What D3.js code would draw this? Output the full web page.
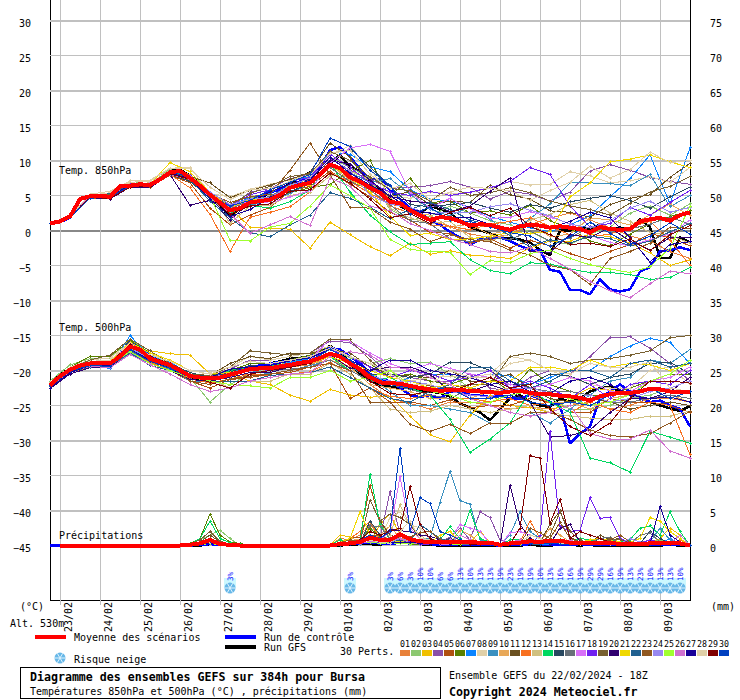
<!DOCTYPE html>
<html><head><meta charset="utf-8">
<script src="https://cdn.jsdelivr.net/npm/d3@7"></script>
<style>
html,body{margin:0;padding:0;background:#fff}
svg{display:block}
text{font-family:"DejaVu Sans Mono",monospace;font-size:10px;fill:#000}
</style></head><body>
<div id="chart"></div>
<script>
// ---------- labels
const dateLabels = ["23/02","24/02","25/02","26/02","27/02","28/02","29/02","01/03","02/03","03/03","04/03","05/03","06/03","07/03","08/03","09/03"];
const leftTicks = [30,25,20,15,10,5,0,-5,-10,-15,-20,-25,-30,-35,-40,-45];
const rightTicks = [75,70,65,60,55,50,45,40,35,30,25,20,15,10,5,0];
const memberColors = ["#e8813a","#8cc870","#f0c000","#8a50a8","#b05010","#5a8000","#0a84ff","#e0d0a8","#3a90c0","#e8a858","#6a5020","#f87020","#d0c080","#00d860","#284860","#687078","#d870f8","#7020f0","#786030","#300070","#f0d800","#206090","#905820","#9888f0","#a0ff30","#d070d0","#180098","#e0d0a8","#800000","#0040c0"];
// snow risk
const snowSteps = [18,30,34,35,36,37,38,39,40,41,42,43,44,45,46,47,48,49,50,51,52,53,54,55,56,57,58,59,60,61,62,63];
const snowPct = [3,3,3,6,3,10,10,6,6,13,10,13,13,19,23,19,19,10,13,16,16,19,29,29,16,19,13,23,10,13,13,10];

// ---------- 850 hPa, one row per perturbation, one value every 12 h
const t850 = [
[1,2,4.8,4.9,6.5,6.4,8.2,7.2,4.7,2.5,3.9,  4.6,6.2,6.5,9.8,8,5.8,3.5,2.5,.8,.5,-.5,  -1,-.6,.8,1.8,2.5,1.5,.4,-.8,-1.5,-3,-4],
[1,2.1,5.1,5,6.6,7.2,8.7,8,5.5,3.3,4.7,  4.8,6.5,7.4,10.5,9,7.5,3,1.5,2,3.5,2.5,  1.4,.8,-.2,-1.5,-2,-.5,.5,2.5,3.5,2.2,3.8],
[1,2,4.7,4.7,6.2,6.3,8.6,8,5.2,3.2,.5,  .3,.2,-2.5,1.2,-.6,-2.3,-3.6,-1.8,-3.4,-2.9,-3.5,  -3.7,-4,-2.5,-1.5,-1.5,-.5,-.9,-1.8,-3.2,-5,-4.2],
[1,2,5,5.2,6.6,6.8,8.6,7.8,5.5,3.2,5.5,  6,7.4,8,10.3,8.6,7.3,6,6.2,6.4,7,6.2,  4.5,5.6,5.2,4.2,5.5,8.5,9.4,8.6,7.6,7,6.6],
[1,1.9,4.6,4.5,6.2,6.2,7.9,6.8,3.2,.8,2.2,  3.3,5.6,6.3,8.5,6.6,4.8,2.6,1.5,-.3,-.4,-1.8,  -1.2,-2.5,-1.4,-2.2,-3.3,-4.2,-3,-2,-.5,-1,-2.2],
[1,2,4.9,5,6.5,6.6,8.2,7.2,4.6,3,4.5,  4.3,5.4,6.1,6.6,8.5,10,4.8,7.5,4,4.2,2.5,  2.8,2.2,3.6,1.4,.3,-1.5,-2.2,-.5,.9,2,2.8],
[1,2.1,5,4.7,6.4,6.6,8.4,7.7,5,3.4,4.8,  5.3,7.1,7.7,11.2,10.9,9.1,8.4,5.8,4.5,4.2,3.3,  2,1.2,.4,-.2,.8,2.1,4.8,7.4,10.8,3.8,11.8],
[1,2,5,5.4,6.9,7,8.9,9,5.3,4.8,5.9,  6.6,7.2,8,10.8,12.1,8.8,5,4.6,5.5,5.2,5.5,  6,7,6.5,6.6,8.4,7.8,6.8,7.1,7.7,6.9,9],
[1,2,4.8,5.2,6.4,6.3,8,7.1,5,2.9,3.6,  4.2,5.3,6.7,9.3,8.3,6.9,7.4,5.2,3,2.1,3.4,  1.6,-.4,1.7,3.8,6.8,6.8,6.7,6.4,8,3.4,5],
[1,2,4.9,4.9,6.5,6.5,8.4,7.6,5.4,3.2,4.3,  4.6,6,7,9.4,7.2,6,4.7,2.6,2.2,.5,.9,  -.6,.2,1.1,-.9,-.5,1.8,1.5,.8,2.2,3.8,2.1],
[1,2,4.7,4.6,6.3,6.4,8.1,7.7,6.8,4.7,5.7,  6.5,7.3,8.3,12.5,10.5,6.6,4.8,5.6,3.7,4.2,4,  6.5,5.1,4.5,2.8,2.6,1.9,3.7,4.6,5.1,7.6,9.6],
[1,1.9,4.8,4.8,6.3,6.4,8,6.1,2.3,-3,1.9,  2.6,3.4,5.5,8.3,7,5.3,3.8,3.1,1.4,.6,.1,  .9,1.3,1.8,.6,-.6,-.9,-.5,.5,1.3,-1.4,-5],
[1,2,5,5,6.7,6.8,8.6,7.9,5.4,1,3.5,  3.6,5,5.5,7.8,8.5,7.2,3.2,1.8,1,1.3,-1,  -1.5,-.5,1.5,2.3,3.7,4.3,2.5,1.3,-.3,-.7,-1.8],
[1,2.1,4.9,4.8,6.5,6.7,8.5,7.8,5.4,2.5,3.6,  3.2,4.1,5.8,9.6,5.5,2.2,-.2,-2,-1.8,-1.6,-4.2,  -5.7,-6.2,-4.6,-4.8,-5.5,-6,-6,-6.3,-7,-6.7,-5.3],
[1,2,4.8,4.6,6.2,6.1,8,7,4.7,2.8,3.8,  4.9,5.6,6.6,9.8,11.7,9.1,6.3,3.7,3.4,3.7,4,  3.2,2.6,3.7,3.2,4.1,4.6,5,4.3,3.2,4.8,6.2],
[1,2,4.9,4.9,6.4,6.5,8.2,7.4,5.3,3.1,4.2,  4.9,6.3,7.2,9,7,5.8,3.7,1.4,1,-1.2,-1.6,  -1,-1.3,-.1,-1.5,-1.1,.6,-.3,.2,.9,1.9,.9],
[1,2,4.9,5,6.5,6.8,8.3,7.3,5,3.6,4.2,  3.9,4.8,5.7,9.6,11.8,12.3,11.3,5.5,3.2,4.6,3.1,  1.7,1.9,2.7,1.9,1,-.7,-1.7,-2.2,-1.3,-.5,1.5],
[1,2.1,5,4.8,6.6,6.6,8.5,7.9,4.8,3.6,5.1,  5.8,7,7.6,10.9,9,6.8,5.5,5,5.6,5,5.5,  6.1,7,9,8,3.5,.5,1,3.3,2.2,4,5.7],
[1,2,5,5.1,6.5,6.4,8.3,7.5,5.4,3.7,5.3,  6.3,7.7,8.1,11.3,10,7.6,6,5.7,4.2,6.2,5,  5.4,6.1,5.4,4.2,3.5,3,2.2,3.9,5.5,6.3,7.7],
[1,1.9,4.7,4.5,6.2,6.1,8,3.6,4.3,1.5,4,  5.5,6.7,7.3,10,9.5,7.2,4.9,4.2,3.9,2.7,3.5,  5.6,7.5,-3,-3.1,-.6,-1,.4,-1.5,-2.8,-1,-1],
[1,2,4.9,4.8,6.4,6.6,9.7,8.4,5.5,3.4,4.4,  4.5,6,6.5,9.5,7.5,5.5,2,-.7,-.4,-1.3,-1.2,  -.8,-.3,-.4,-.2,4.8,6.8,9.8,10.2,10.8,9.8,9],
[1,2,4.8,5.3,6.5,6.5,8.2,7.3,4.2,1.8,-.3,  -.9,.8,2.2,5.4,4.6,3.3,1.7,3,4,3,1.5,  .8,-.7,-2.3,-1.3,-1.8,-.8,-1.2,-2.2,-1.5,-.2,1],
[1,2,4.8,4.7,6.4,6.2,8,7.2,5.3,4,4.8,  5.2,8.6,12.5,8,3.3,3.2,1.2,.2,-1.6,-.6,-1.3,  -1.6,-2.8,-3.5,-5,-5.6,-7.7,-4,-3,-1.8,.5,.3],
[1,2,4.9,5,6.4,6.5,8.3,7.7,5.5,3.7,4.5,  4.7,6.4,7.5,10.4,8.5,5,3.8,3.3,2.4,2.6,2.6,  3.4,3.8,2.9,2.1,.9,.4,1.4,3.2,4.2,2.6,3.3],
[1,2,4.9,4.9,6.4,6.5,8.4,7.6,5,-1.4,-1.5,  .5,1,3.5,6.5,5,3.2,-1.3,-2.7,-3,-3.1,-6.3,  -4.3,-4.6,-3.3,-2.8,-4,-4.9,-5.5,-6,-5.2,-2.5,3.5],
[1,2,4.9,4.9,6.4,6.4,8,7.3,4.8,2.4,-.4,  .8,2,.7,7.5,6.3,3.5,2.8,1,0,-1.2,-2,  -3,-3.2,-2.4,-4,-5.5,-7.3,-8.6,-9.6,-7.6,-5.8,-6.2],
[1,2,4.8,4.8,6.5,6.5,8.2,7.4,4.5,2,3,  4.7,6,7.2,10.5,8.2,6.5,5,3,2.5,1.9,1.8,  .9,-.1,1,.4,1.3,2.6,1.8,-1,-4.5,-2,-1.6],
[1,2,5.2,5.6,7.1,7.2,8.9,8.8,6.2,4.4,5.8,  6,7,7.9,11,11.5,8,6,6.7,4.4,5.5,6.2,  6,5.7,4.3,5.7,6.9,9.2,7.5,8.7,11.2,9.7,10],
[1,2,4.7,4.6,6.2,6.3,8.1,7.3,4.9,2.3,3.5,  3.8,5.6,5.8,8.2,6.8,4.5,1.8,2.4,1,2.6,3.3,  2.1,3.2,.6,-.6,-2,-1.8,-2.3,-1.2,-2.9,-.6,.7],
[1,1.9,4.6,4.8,6.3,6.5,8.4,7.6,5,3.5,4.3,  5.8,6.9,8,13.2,12,8.6,6.5,2.3,3.3,1.5,1.3,  .5,-.3,-.8,-2.3,-.9,1.2,-.4,-2,-.8,1.1,-.5]
];
// ---------- 500 hPa, one row per perturbation, one value every 12 h
const t500 = [
[-22,-20,-19,-19,-16.5,-18,-19,-20.5,-21,-20.8,-20.5,  -20,-19.5,-19.2,-18,-19.5,-22,-24,-24.7,-25.5,-24.5,-24.5,  -25,-25.5,-25.2,-25.5,-25,-24.5,-25.5,-25,-24,-24,-24.5],
[-21.5,-19.2,-18.3,-18.3,-15.5,-17.5,-19.2,-21,-24.5,-22,-20.5,  -19.5,-18.8,-18,-16.8,-18.2,-19,-18.3,-19,-18.8,-20.5,-22.5,  -21.5,-22,-22.5,-24,-25.5,-25.5,-25,-24,-23.5,-22.5,-21.5],
[-22,-20,-19,-19.2,-17,-17.2,-17.6,-17.8,-20.5,-20.4,-21.5,  -22,-23.5,-24.4,-22.7,-23.5,-23.8,-23.7,-26.5,-29.2,-30.2,-26.4,  -23.6,-25,-25.3,-26,-24,-22.5,-22.8,-23.5,-24,-23.5,-24.5],
[-21.8,-19.5,-19,-18.5,-16.2,-17.5,-19,-20.5,-20.8,-19.8,-18.5,  -18.5,-18,-17.5,-15.8,-16,-18,-20.5,-21,-21.5,-21.5,-20.5,  -22.5,-23,-21,-20,-20.5,-18,-15.3,-15.2,-16.8,-19,-21.5],
[-22,-20.5,-19.5,-19.3,-17.2,-19,-20,-21.5,-22.5,-21.3,-21,  -20.5,-20.3,-19.5,-19,-24,-22.5,-24.5,-24.5,-25,-24.2,-25.3,  -25,-25,-24,-24.5,-26,-26,-24,-24.5,-24.5,-25,-26],
[-22,-19.5,-18,-18,-15.7,-17.5,-19,-20.5,-20.7,-20,-19,  -19,-18.5,-17.8,-16.5,-18,-19,-21,-20.5,-21.5,-22,-21,  -21,-23,-19.8,-22,-23,-23.5,-23.5,-22.5,-21.5,-20.5,-20.5],
[-22.5,-20,-19.3,-19.7,-15,-18,-18.8,-20.5,-21,-20,-19.5,  -19.7,-18.8,-18.3,-17.5,-19,-20.5,-22,-21,-20.5,-20.5,-21,  -20.5,-20.8,-22,-21,-20,-20,-18,-16.5,-15.4,-16,-19],
[-21.7,-19.5,-18.5,-18.2,-16,-17.5,-19,-20.8,-20.3,-19.5,-18,  -18.5,-18,-17.5,-16.5,-18,-19,-20,-21.5,-21,-20.8,-21,  -20.5,-18,-18.5,-20,-21,-22,-22.5,-22.5,-20,-19.5,-22],
[-22.5,-20.3,-19.4,-19.5,-17.5,-19,-19.8,-21.5,-21.5,-20,-20,  -20.5,-20,-19.3,-18.5,-19.5,-21,-23,-25,-25,-25.5,-26,  -27.5,-27.5,-26,-27.5,-25.5,-23.5,-21.5,-21,-18.5,-19,-17],
[-22,-20,-18.8,-19,-16.8,-18.6,-19.5,-20.5,-21,-20.3,-19.8,  -20,-19.5,-19,-18.5,-19.5,-22,-22.5,-23,-24,-24,-24,  -23,-22.5,-23.5,-24.5,-24.5,-25.5,-24,-23.5,-24,-23.5,-24.5],
[-22.2,-20,-19,-18.7,-16.5,-18.3,-19,-20.7,-20.7,-19,-18,  -18.3,-17.5,-17.5,-17,-17.5,-19.5,-20.5,-20.8,-21,-20,-21.5,  -21.5,-20.5,-22.5,-24,-24.5,-24,-24.5,-25.5,-25,-24.5,-25],
[-22.3,-20.5,-19.5,-19.4,-17.3,-18.8,-20,-21.2,-21.8,-21.2,-20.5,  -20.7,-20.5,-20.2,-18.8,-20.5,-22.5,-23.7,-24,-23.5,-24,-24,  -24.5,-24,-25,-24.5,-26,-24.5,-25.5,-26,-24.5,-25,-32],
[-22,-20,-19,-19,-17,-18.2,-19.5,-21,-21.2,-22.5,-21.5,  -21.5,-20.5,-20.5,-19,-20.5,-22.5,-25.5,-26,-25.8,-25,-25.5,  -26,-25.5,-25,-26,-26.5,-26.8,-27,-27,-26.5,-26.5,-25.8],
[-22,-19.8,-19.2,-18.8,-17,-18,-19,-20.5,-21.2,-20,-19.5,  -19.3,-19,-18.5,-18,-20,-21.5,-21,-22.5,-23.5,-27,-31.7,  -29.8,-27.5,-23,-24.5,-26,-32.5,-33.2,-34.5,-28.7,-29.5,-30.4],
[-22,-20,-19,-18.8,-16.5,-18,-19,-20.3,-21,-20.2,-19.3,  -19.5,-19,-18.5,-17.5,-19,-20.5,-20.5,-21,-20.5,-18.8,-18.9,  -20,-22,-22,-20.5,-20.8,-22,-21,-20.5,-19,-18.8,-20.5],
[-22.3,-20,-19.3,-19.3,-17.2,-18.7,-19.5,-21,-21.5,-21,-20.3,  -20,-19.8,-19.5,-18.5,-20,-21.5,-22,-22.7,-23.5,-24,-22.5,  -23,-23,-22.5,-23,-23,-23.5,-24.5,-24.5,-24,-23.5,-24],
[-21.8,-19.7,-19,-19,-16.2,-18.2,-19,-21,-21,-20.5,-20,  -19.5,-19,-18.5,-15.5,-15.8,-17.5,-19,-20,-19,-19.7,-20.5,  -21,-22,-22.5,-22,-21,-21.5,-23,-23,-21.5,-21,-19.5],
[-22,-20,-19.2,-19.5,-16.7,-18.5,-19.5,-20.8,-21.3,-20.5,-19.7,  -20,-19,-18.5,-17,-18,-19.5,-21,-20,-20.5,-21.5,-21,  -20,-22.5,-21.5,-22.5,-24,-22,-24,-22,-21.5,-22,-20],
[-22,-19.8,-18.5,-17.8,-15.5,-17.2,-19,-20.5,-20.7,-19.5,-17.2,  -17.5,-17.8,-17.5,-15.5,-15.6,-18.5,-21,-21.5,-22.2,-22.5,-22,  -22,-18,-17.5,-18,-19,-18.5,-18.3,-17.8,-17.2,-15.3,-15],
[-22.6,-20.5,-19.6,-19.5,-17.3,-19,-20,-21.3,-21.5,-21,-20.3,  -20.3,-19.5,-19,-17.7,-19.7,-20,-19.5,-19.5,-20.5,-23,-23,  -22,-23,-24.5,-29.5,-29.3,-28.5,-26,-24,-24,-23,-21],
[-22,-19.8,-18.8,-18.7,-16,-17.5,-18.5,-20,-20.5,-20.3,-20,  -19.5,-19.5,-19,-18,-19,-20,-21,-21.5,-22.5,-22,-22.5,  -21.5,-21.5,-19.5,-19.5,-20,-18.5,-19.5,-19,-19.2,-20,-19],
[-22.3,-20.2,-19.5,-19.3,-17.5,-19.3,-20,-21,-21.5,-21.5,-21.5,  -20.7,-20.5,-20.3,-19.5,-21,-22.5,-24,-24.5,-23,-22,-19.5,  -19.5,-21.5,-22.5,-21.5,-20,-20,-21,-19,-18.5,-19.5,-19],
[-22,-20.2,-19.2,-19,-16.8,-18.5,-19.5,-21.5,-22,-21.2,-20.8,  -20.5,-20,-19.5,-19,-20,-24.5,-24.5,-27.7,-28.7,-27.7,-29,  -27.5,-27.5,-26,-26,-27,-28.5,-29.3,-29.5,-29,-27.5,-25.8],
[-22,-20,-19,-19,-16.8,-18.3,-19.3,-20.7,-21.2,-20.8,-20,  -19.8,-19.2,-18.8,-17.5,-19,-20.7,-21.5,-21.5,-22,-23,-23.5,  -23.8,-22.5,-22.5,-23.2,-24,-23.5,-24.5,-24,-23,-22.5,-21.5],
[-22,-19.7,-19,-19.2,-17.3,-19,-20,-21,-21.5,-22,-22.2,  -22.5,-21,-21,-20,-21.5,-21,-20,-22,-23,-23.5,-24.5,  -24.5,-23.5,-23,-23.5,-24,-25,-24.5,-23.5,-21.5,-20.5,-18.5],
[-22.2,-20.2,-19.4,-19.6,-17.7,-19.2,-20.5,-22,-23,-22.5,-21.5,  -21,-20.5,-20.3,-18,-17.3,-17.8,-19.5,-19.8,-21,-22,-24,  -25,-26,-26.5,-26,-25,-29,-29.8,-29.8,-28.5,-31.5,-32.5],
[-22.5,-20.3,-19.3,-19.3,-17,-18.5,-19.7,-21,-21,-19.8,-19.5,  -19.3,-18.6,-18.2,-17,-18.5,-20,-18.5,-18.5,-20,-20.5,-21,  -22,-21.5,-23,-23.3,-21.5,-21,-22,-23.5,-24,-23.8,-24.5],
[-22,-19.8,-18.7,-18.5,-16.2,-17.8,-18.7,-20,-20.5,-19.5,-18.7,  -19,-18.5,-18,-16.8,-18,-19,-20.5,-22,-22,-20,-21,  -21,-19,-18.5,-20,-20.5,-19,-19.5,-19.5,-18.8,-22.5,-23],
[-22.2,-20,-19,-18.9,-16.3,-18,-19,-20.7,-21.7,-22.5,-20.5,  -20,-19.5,-19,-17.5,-19,-21.5,-23.3,-23.5,-23,-23,-22,  -21,-22.5,-22,-25.5,-28,-29.3,-27.5,-24,-21.5,-21.5,-21.8],
[-22.2,-20.1,-19.3,-19.4,-17,-18.7,-19.7,-21,-21.2,-20.5,-19.7,  -19.8,-19.1,-18.6,-17,-18.5,-20.7,-22,-22.5,-22.7,-22.5,-24,  -24,-23.5,-24.5,-25,-24.5,-25,-23.5,-23,-22.5,-24,-23]
];
// ---------- precipitation (mm), one row per perturbation, every 6 h from step 12
const precip = [
[0,0,0,.3,1,.3,0,0,0,0,0,0,0,0,0,0,  0,1,.8,1.5,3,1.5,.5,1,.8,.4,  .3,.5,.2,.3,.8,.4,.2,0,.3,.8,  .6,.3,.2,.4,.8,.3,.2,.5,.3,.2,  .3,.5,.3,.2,.2,.3,0],
[0,0,.3,.8,1.5,2.2,1,0,0,0,0,0,0,0,0,0,  0,0,.5,.8,2,3,1.5,1,.5,.3,  .5,.2,.8,.4,.3,.2,.1,0,.2,.4,  .2,.2,.3,.2,.2,.4,.2,.2,.5,.2,  .2,.2,.4,.8,.4,.2,0],
[0,0,0,.2,.6,.2,0,0,0,0,0,0,0,0,0,0,  0,1.5,1.2,1.2,.5,3,4.5,1.5,1,.5,  .3,.2,.2,.5,.4,2,.5,.2,.1,.3,  .5,.5,.2,.3,.3,.2,.5,1,1.2,.4,  .2,.5,.4,1,2.5,1.5,0],
[0,0,0,.3,.8,.2,0,0,0,0,0,0,0,0,0,0,  0,.2,.5,.8,1.5,1,7.7,1.5,.8,.5,  .3,.5,1.2,2.5,.8,4.8,4,.8,.3,.4,  .8,.5,.3,.2,.5,.3,.2,.4,.3,.5,  .3,.4,.8,.3,.2,.5,0],
[0,0,0,.2,.5,.2,0,0,0,0,0,0,0,0,0,0,  0,.4,1,1.2,8.6,3.5,1,.5,.3,.4,  .2,.3,.2,.3,.4,.3,.2,0,.2,.3,  .3,.2,.8,.4,.3,.3,.2,.2,.3,.2,  .2,.3,.2,.2,.3,.2,0],
[0,0,.3,1,4.5,1.5,.5,.3,0,0,0,0,0,0,0,0,  0,.3,.5,.3,2.5,1.2,.5,.3,.2,.2,  .3,.5,.8,.3,.2,.3,.1,0,.3,.8,  .3,.2,.5,.8,.4,.2,.3,.5,.3,.2,  .2,.2,.3,.5,.2,.2,0],
[0,0,0,.2,.5,.1,0,0,0,0,0,0,0,0,0,0,  0,0,.2,.4,1,.6,.4,.5,.3,.2,  .2,.3,.2,.4,.5,.2,.1,0,.2,.3,  .2,.1,.2,.3,.2,.4,.2,.5,.3,.2,  .2,.3,.2,.2,1,.3,0],
[0,0,0,.2,.8,.3,0,0,0,0,0,0,0,0,0,0,  0,.5,.3,.8,1.5,1,4,4.8,3,2.5,  1,.5,.3,.2,.4,.2,.1,0,.2,.4,  .3,.2,.3,.2,.2,.3,.2,.2,.5,.2,  .2,.2,.2,.3,.2,.2,0],
[0,0,0,.1,.4,.1,0,0,0,0,0,0,0,0,0,0,  0,0,.3,.2,1.5,.8,.5,.3,.4,1,  1,6.2,10.6,6.4,5.9,.8,.5,0,1.5,4.8,  2,1,.3,.5,.2,.4,.3,.2,.5,.3,  .3,.4,.5,2.5,.8,.3,0],
[0,0,0,.3,.9,.4,0,0,0,0,0,0,0,0,0,0,  0,.5,1,.8,.8,1.5,2.8,1,.5,.3,  .3,.4,.2,2.2,1.5,.3,.2,0,.2,.3,  .8,.5,2.5,1.5,.5,.3,.4,.2,.2,.3,  .2,.3,.3,.2,.4,.2,0],
[0,0,0,.5,1.5,.5,.2,0,0,0,0,0,0,0,0,0,  0,.2,.3,.4,6.5,3.5,1.5,1,.4,.5,  .5,.3,.2,.3,.2,.1,.1,0,.2,.5,  1,.5,3,5,1.2,.5,.3,1.5,.8,1,  .3,.2,.3,.2,.2,.3,0],
[0,0,0,.2,.6,.2,0,0,0,0,0,0,0,0,0,0,  0,.3,1,2,3.5,.8,.4,.5,.3,.2,  .2,.3,.2,.3,.2,.2,.1,0,.2,.4,  3.5,1,.3,.2,.5,.2,.1,.2,.3,.2,  .2,.2,.2,.3,.2,.8,0],
[0,0,0,.2,.4,.1,0,0,0,0,0,0,0,0,0,0,  0,.2,.4,.6,.8,.5,1.5,5.8,3,1.5,  .5,.3,.2,.3,.2,.2,.1,0,.2,.3,  .2,.2,.3,.3,.2,.2,.2,.2,.2,.2,  .3,.2,.2,.2,.2,.2,0],
[0,0,.2,1,3.5,1,.4,.2,0,0,0,0,0,0,0,0,  0,.8,.3,.5,10.2,3,.8,.5,.3,.5,  .5,.8,2.7,1,5,1,.5,0,.8,.8,  .5,.3,.2,.3,.4,1,.8,.5,.8,.5,  .8,2.5,2.8,1.5,4.8,2,0],
[0,0,0,.1,.3,.1,0,0,0,0,0,0,0,0,0,0,  0,.2,.5,.3,3.5,1.5,.8,.4,.3,.3,  .2,.5,1,.4,.3,.2,.1,0,.3,.3,  .3,.2,.3,.2,.4,.5,.3,1,.5,.3,  .4,.3,2,1,.3,.3,0],
[0,0,0,.2,.5,.1,0,0,0,0,0,0,0,0,0,0,  0,.2,.3,.5,2.8,2.7,1,.8,.3,.4,  .3,.2,.3,.2,.2,.2,.1,0,.2,.4,  .3,.2,.3,.4,.3,.2,.5,1,1.2,.3,  .2,1.5,1.8,.5,.3,.2,0],
[0,0,0,.2,.7,.2,0,0,0,0,0,0,0,0,0,0,  0,.2,.4,.6,1,.8,2,9.8,2.5,1,  .5,.3,.8,3,2.5,2,.3,0,1.8,2,  1.5,1,.5,.3,.2,.3,.2,.3,.2,.3,  .2,.3,.2,.2,.2,.2,0],
[0,0,0,.1,.3,.1,0,0,0,0,0,0,0,0,0,0,  0,.1,.2,.3,.5,.4,.6,.8,.5,.2,  .2,.3,.2,.4,.3,.2,.1,0,.2,.3,  .2,1.4,16.3,2.7,2,2.2,6.8,3.9,4,1,  .5,.3,.8,.5,.3,.2,0],
[0,0,.2,.8,2,.6,.2,0,0,0,0,0,0,0,0,0,  0,.3,.5,.4,6.5,3.5,4.5,4,3,1,  .8,.5,.3,.3,.2,.2,.1,0,.2,.8,  .5,.3,1.5,4.8,2,.8,.3,.5,1,.8,  .3,.3,.2,.3,.2,.2,0],
[0,0,0,.2,.6,.2,0,0,0,0,0,0,0,0,0,0,  0,.2,.3,.8,1.5,1,2.3,2.1,2,1.5,  1.3,.8,.5,.3,.2,.1,.1,0,8.6,3,  1,.3,.2,2.5,3,.5,.3,.2,.3,.2,  .3,.5,.4,.3,.2,.2,0],
[0,0,0,.3,.6,.1,0,0,0,0,0,0,0,0,0,0,  0,.5,1,4.8,1.5,1,.8,.5,.8,.6,  .4,1.5,2,.5,.8,.4,.2,0,.2,.4,  .3,.2,.4,.2,.3,.5,.8,1,.7,.5,  .5,1,4,3.5,2,1,0],
[0,0,0,.1,.4,.1,0,0,0,0,0,0,0,0,0,0,  0,.1,.3,.5,1,.7,.5,.8,.4,3,  2,1,.6,.3,.4,.3,.1,0,.3,.5,  .2,.2,.3,.2,.3,.4,.2,.3,.2,.3,  .2,.3,.4,.2,.2,.3,0],
[0,0,0,.4,1,.4,.1,0,0,0,0,0,0,0,0,0,  0,.4,.8,.6,1.5,1.5,.8,1.5,1.2,1.8,  2,.8,.3,.4,.3,.2,.1,0,.2,.3,  2.5,1.8,1,3.3,1,.5,.3,.5,.8,1.5,  .5,.3,.3,.2,.3,.4,0],
[0,0,0,.2,.5,.1,0,0,0,0,0,0,0,0,0,0,  0,.2,.3,.5,.8,.6,.4,1,.7,.4,  .3,.4,.3,.5,.3,.2,.1,0,.3,.5,  .3,.3,.3,.3,.2,.3,.4,.2,.3,.3,  1,.5,.3,.2,.3,.3,0],
[0,0,0,.1,.3,.1,0,0,0,0,0,0,0,0,0,0,  0,.2,.5,.4,.5,.3,.4,.3,.2,.3,  .2,.3,.2,.2,.3,.2,.1,0,.2,.2,  .3,.2,.3,.2,.2,.4,.2,.2,.3,.2,  .2,.2,.3,.3,.2,.2,0],
[0,0,0,.2,.4,.1,0,0,0,0,0,0,0,0,0,0,  0,.1,.3,.3,.6,.5,.8,1,.4,.3,  .3,.2,.2,1.5,.8,.3,.1,0,.5,.8,  .3,.2,.3,.2,.8,.3,.2,.3,.5,.2,  .2,.3,.2,.3,.3,1.5,0],
[0,0,0,.1,.4,.1,0,0,0,0,0,0,0,0,0,0,  0,.1,.2,.5,1,.6,.5,.4,.5,.3,  .2,.3,.2,.3,.2,.2,.1,0,.2,.3,  .2,.3,.4,.3,.2,.3,.2,.3,.2,.2,  .3,.3,.2,5.6,1.5,.5,0],
[0,0,0,.2,.5,.2,0,0,0,0,0,0,0,0,0,0,  0,.3,.5,.4,.8,.5,.3,2,3.5,1,  .8,.4,.3,.8,.3,.2,.1,0,.2,.3,  1.5,1,.5,.3,.3,.2,.2,.3,.2,.2,  .2,.2,.3,.2,.2,.2,0],
[0,0,0,.3,.8,.2,0,0,0,0,0,0,0,0,0,0,  0,.2,.3,.8,2,1.5,2,2.5,8.4,3,  1,.5,.3,.3,.2,.2,.1,0,.2,2.5,  12.8,12.5,3.2,6.6,1,2,1.5,1,.5,.3,  .2,.3,.3,.2,.2,.2,0],
[0,0,0,.2,.6,.2,0,0,0,0,0,0,0,0,0,0,  0,.2,.4,.7,1.5,1,2,13.9,2,6.8,  6,2,1.5,.8,.5,.3,.1,0,.3,.4,  .3,.2,.3,.2,.2,.3,.2,.2,.3,.2,  .2,.3,.2,.3,.3,.2,0]
];
const precipFirstStep = 12;

// ---------- mean, control and GFS, one value every 6 h
const mean850 = [1,1.3,2,4.5,4.9,5,4.8,6.3,6.4,6.6,  6.5,7.3,8.3,8.5,7.5,6.4,5.1,4,2.9,3.2,  4,4.2,4.4,5.1,6.1,6.5,6.8,8,9.4,8.9,  7.6,7,6.1,5.4,4.1,3.9,2.9,2.2,1.5,1.9,  1.8,1.3,.7,.9,.8,.4,.1,.6,.8,.7,  .4,.6,.4,.2,-.3,.5,.2,.1,.2,1.3,  1.6,1.8,1.4,2.2,2.6];
const control850 = [1,1.2,1.8,4.6,4.7,4.9,4.7,6.2,6.3,6.4,  6.4,7.2,8.4,8.6,7.3,6.2,5.2,4.3,3.2,4,  4.6,4.8,5.5,5.8,6.5,7,7.7,9,11.5,11.9,  10.5,8.8,7.4,7.3,5.8,4.5,3.2,2.5,1.5,.8,  -.2,-1,-2,-1.3,-1.1,-1,-1.5,-2.2,-2.8,-2.8,  -5.6,-5.9,-8.5,-8.5,-9.1,-7,-8.4,-8.7,-8.4,-5.9,  -5.2,-3,-2.8,-2.4,-2.8];
const gfs850 = [1,1.3,2,4.4,4.8,5,4.9,6.4,6.5,6.7,  6.6,7.4,8.5,8.7,7.8,6.8,5,3.5,2,3.2,  3.8,4.5,5.5,5.8,6.7,7.6,8.3,8.2,9.5,10.8,  9,8.5,7,6,4.5,3.5,2.8,2.2,3.6,3,  2.6,1.3,.5,0,-.4,-1,-1.1,-1.3,-1.7,-2.8,  -3.5,0,0,.3,.3,.8,.3,.4,.2,1.6,  .5,-3.9,-3.9,-1,-1.7];
const mean500 = [-22.1,-20.8,-19.9,-19.3,-19,-18.9,-19,-18,-16.6,-17,  -18.3,-18.8,-19.2,-20,-20.8,-21,-21.1,-21,-20.6,-20.2,  -19.8,-19.7,-19.7,-19.4,-19.2,-18.9,-18.7,-18.2,-17.6,-18,  -19,-19.8,-21,-21.7,-21.8,-21.9,-22.2,-22.5,-22.7,-22.9,  -22.8,-22.8,-22.9,-23,-23.1,-23.2,-23,-22.9,-23.2,-23.4,  -23.4,-23.6,-23.7,-23.9,-24.3,-23.7,-23.4,-23.2,-23.2,-23,  -22.6,-22.7,-23,-23,-23.1];
const control500 = [-22.3,-21,-20,-19.5,-19.2,-19.2,-19,-17.5,-15.8,-16.5,  -18,-18.5,-19,-20,-20.8,-21,-21.3,-21,-20.3,-19.8,  -19.4,-19.3,-19,-18.8,-18.6,-18.3,-18,-17.5,-16.8,-17,  -18,-19,-20.5,-21.3,-21.5,-22.5,-23.5,-23.8,-23.5,-24,  -23,-23,-23.5,-23.5,-23.8,-23.5,-24,-24,-23.5,-24,  -24.5,-25,-30.4,-29,-28,-24,-23,-22,-23,-24,  -24.5,-24.3,-25,-25.5,-28];
const gfs500 = [-22,-20.5,-19.8,-19.2,-19,-19,-19,-18,-16.3,-17,  -18.5,-19,-19.5,-20.5,-21,-21.3,-21.3,-21,-20.5,-20,  -19.5,-19.5,-19,-18.7,-18.3,-18.2,-18,-17.3,-16.5,-17.3,  -19,-20.5,-21.5,-22,-22.3,-22.5,-22.5,-22.8,-23,-23.2,  -23.7,-24.7,-25.3,-26,-27.1,-25.5,-24,-23.5,-24.5,-25,  -25.2,-24,-24.5,-24,-23,-22.5,-22.3,-23,-23.5,-24,  -24.5,-25,-25.4,-25.8,-25.1];
const meanPrecip = [0,0,0,0,0,0,0,0,0,0,  0,0,0,0,.1,.3,.8,.2,.1,0,  0,0,0,0,0,0,0,0,0,.2,  .3,.5,1.1,.8,.8,1.6,.9,.6,.5,.5,  .5,.5,.5,.4,.4,.1,.3,.4,.6,.5,  .7,.7,.4,.4,.4,.3,.4,.2,.2,.2,  .3,.4,.4,.3,0];
const controlPrecip = [0,0,0,0,0,0,0,0,0,0,  0,0,0,0,0,.1,.2,.1,0,0,  0,0,0,0,0,0,0,0,0,.1,  .2,.3,.4,.3,.2,.4,.3,.2,.2,.1,  .1,.2,.1,.1,.1,0,.1,.1,.2,.2,  .1,.1,.1,.2,.1,.1,.1,.1,.1,.1,  .1,.1,.1,.1,0];
const gfsPrecip = [0,0,0,0,0,0,0,0,0,0,  0,0,0,0,0,0,.2,.1,0,0,  0,0,0,0,0,0,0,0,0,0,  .1,.2,.2,.1,.5,1,.6,.2,.1,0,  -.1,-.1,0,-.1,0,-.1,0,0,.1,0,  0,.1,.1,0,.1,-.1,0,-.1,0,-.1,  0,0,.1,0,0];

// ---------- scales
const W = 740, H = 700;
const plot = {left:50, right:690, top:0, bottom:600};
const x = d3.scaleLinear().domain([0,64]).range([plot.left, plot.right]);
const yT = d3.scaleLinear().domain([30,-45]).range([20.5,545.5]);
const yP = d3.scaleLinear().domain([75,0]).range([20.5,545.5]);

const svg = d3.select("#chart").append("svg").attr("width",W).attr("height",H);

// ---------- frame (under the grid, as in the reference)
const frame = svg.append("g").attr("shape-rendering","crispEdges").attr("stroke","#000").attr("stroke-width",1);
frame.append("line").attr("x1",plot.left+.5).attr("x2",plot.left+.5).attr("y1",plot.top).attr("y2",plot.bottom);
frame.append("line").attr("x1",plot.right+.5).attr("x2",plot.right+.5).attr("y1",plot.top).attr("y2",plot.bottom);
frame.append("line").attr("x1",plot.left).attr("x2",plot.right+1).attr("y1",plot.bottom+.5).attr("y2",plot.bottom+.5);

// ---------- grid
const gridG = svg.append("g").attr("shape-rendering","crispEdges");
gridG.selectAll("line.h").data(leftTicks).join("line")
  .attr("x1",plot.left).attr("x2",plot.right)
  .attr("y1",d=>yT(d)+(d%10===0?.5:0)).attr("y2",d=>yT(d)+(d%10===0?.5:0))
  .attr("stroke",d=>d===0?"#888888":"#c0c0c0")
  .attr("stroke-width",d=>d%10===0?2:1);
const dateSteps = dateLabels.map((d,i)=>1+4*i);
gridG.selectAll("line.v").data(dateSteps).join("line")
  .attr("x1",d=>x(d)+.5).attr("x2",d=>x(d)+.5)
  .attr("y1",plot.top).attr("y2",plot.bottom+5)
  .attr("stroke","#c0c0c0").attr("stroke-width",1);

// ---------- series
function crosses(points){
  return points.map(p=>`M${p[0]-1.5} ${p[1]}H${p[0]+1.5}M${p[0]} ${p[1]-1.5}V${p[1]+1.5}`).join("");
}
function drawSeries(g, vals, scale, every, first, color, width, marks){
  const pts = vals.map((v,i)=>[x(first+i*every), scale(v)]);
  g.append("path").attr("d",d3.line()(pts)).attr("fill","none")
    .attr("stroke",color).attr("stroke-width",width).attr("stroke-linejoin","round");
  if(marks) g.append("path").attr("d",crosses(pts)).attr("fill","none").attr("stroke",color).attr("stroke-width",1);
}
const linesG = svg.append("g").attr("shape-rendering","crispEdges");
[[gfs850,yT],[gfs500,yT],[gfsPrecip,yP]].forEach(([r,s])=>drawSeries(linesG,r,s,1,0,"#000000",2.5,false));
[[control850,yT],[control500,yT],[controlPrecip,yP]].forEach(([r,s])=>drawSeries(linesG,r,s,1,0,"#0000ff",2.5,false));
t850.forEach((r,i)=>drawSeries(linesG,r,yT,2,0,memberColors[i],1,true));
t500.forEach((r,i)=>drawSeries(linesG,r,yT,2,0,memberColors[i],1,true));
precip.forEach((r,i)=>drawSeries(linesG,r,yP,1,precipFirstStep,memberColors[i],1,true));
drawSeries(linesG,mean850,yT,1,0,"#ff0000",4,false);
drawSeries(linesG,mean500,yT,1,0,"#ff0000",4,false);
drawSeries(linesG,meanPrecip.slice(1),yP,1,1,"#ff0000",4,false);

// ---------- axes
const axL = svg.append("g").attr("transform",`translate(${plot.left},0)`)
  .call(d3.axisLeft(yT).tickValues(leftTicks).tickSize(0).tickPadding(19));
const axR = svg.append("g").attr("transform",`translate(${plot.right},0)`)
  .call(d3.axisRight(yP).tickValues(rightTicks).tickSize(0).tickPadding(20));
[axL,axR].forEach(a=>{a.select(".domain").remove();a.selectAll("text").attr("dy","0.55em").attr("fill","#000").style("font-family",'"DejaVu Sans Mono",monospace').style("font-size","10px");});
const axB = svg.append("g").attr("transform",`translate(0,${plot.bottom})`)
  .call(d3.axisBottom(x).tickValues(dateSteps).tickFormat((d,i)=>dateLabels[i]).tickSize(0));
axB.select(".domain").remove();
axB.selectAll("text").attr("text-anchor","end")
  .attr("transform","rotate(-90)").attr("x",-2).attr("y",11).attr("dy",0).attr("fill","#000")
  .style("font-family",'"DejaVu Sans Mono",monospace').style("font-size","10px");

// ---------- snow risk
function flake(g, cx, cy, r){
  g.append("circle").attr("cx",cx).attr("cy",cy).attr("r",r).attr("fill","#68b8e8");
  [0,60,120].forEach(a=>{
    const c=Math.cos(a*Math.PI/180)*r, s=Math.sin(a*Math.PI/180)*r;
    g.append("line").attr("x1",cx-c).attr("x2",cx+c).attr("y1",cy-s).attr("y2",cy+s)
      .attr("stroke","#dff4ff").attr("stroke-width",1);
  });
}
const snowG = svg.append("g");
snowSteps.forEach(s=>{
  snowG.append("rect").attr("x",x(s)-6).attr("y",578).attr("width",12).attr("height",10).attr("fill","#ccf8ff");
});
snowSteps.forEach((s,i)=>{
  flake(snowG,x(s),588,5.5);
  snowG.append("text").attr("transform",`translate(${x(s)+3},581) rotate(-90)`)
    .style("font-size","7.5px").style("fill","#0000ff").text(snowPct[i]+"%");
});

// ---------- free text
function label(t,px,py,opts={}){
  const e=svg.append("text").attr("x",px).attr("y",py).text(t);
  if(opts.bold) e.style("font-weight","bold");
  if(opts.size) e.style("font-size",opts.size+"px");
  return e;
}
label("Temp. 850hPa",59,174);
label("Temp. 500hPa",59,331);
label("Précipitations",59,539);
label("(°C)",20,610);
label("(mm)",711,610);
label("Alt. 530m",10,627);

// ---------- legend
const legG = svg.append("g").attr("shape-rendering","crispEdges");
const legItems = [[35,637,"#ff0000"],[225,637,"#0000ff"],[225,647,"#000000"]];
legG.selectAll("rect").data(legItems).join("rect").attr("x",d=>d[0]).attr("y",d=>d[1]-2).attr("width",31).attr("height",4).attr("fill",d=>d[2]);
label("Moyenne des scénarios",74,641);
label("Run de contrôle",264,641);
label("Run GFS",264,651);
label("Risque neige",74,663);
label("30 Perts.",340,655);
flake(svg.append("g"),60,658,5.5);
memberColors.forEach((c,i)=>{
  const lx=400+11*i;
  svg.append("rect").attr("x",lx).attr("y",650).attr("width",10).attr("height",6).attr("fill",c);
  svg.append("text").attr("x",lx+5).attr("y",647).attr("text-anchor","middle").style("font-size","8.3px").text(d3.format("02")(i+1));
});

// ---------- title block
svg.append("rect").attr("x",20.5).attr("y",667.5).attr("width",420).attr("height",31).attr("fill","none").attr("stroke","#000").attr("stroke-width",1);
label("Diagramme des ensembles GEFS sur 384h pour Bursa",30,681,{bold:true,size:11.6});
label("Températures 850hPa et 500hPa (°C) , précipitations (mm)",30,695);
label("Ensemble GEFS du 22/02/2024 - 18Z",449,679);
label("Copyright 2024 Meteociel.fr",449,696,{bold:true,size:11.6});
</script>
</body></html>
